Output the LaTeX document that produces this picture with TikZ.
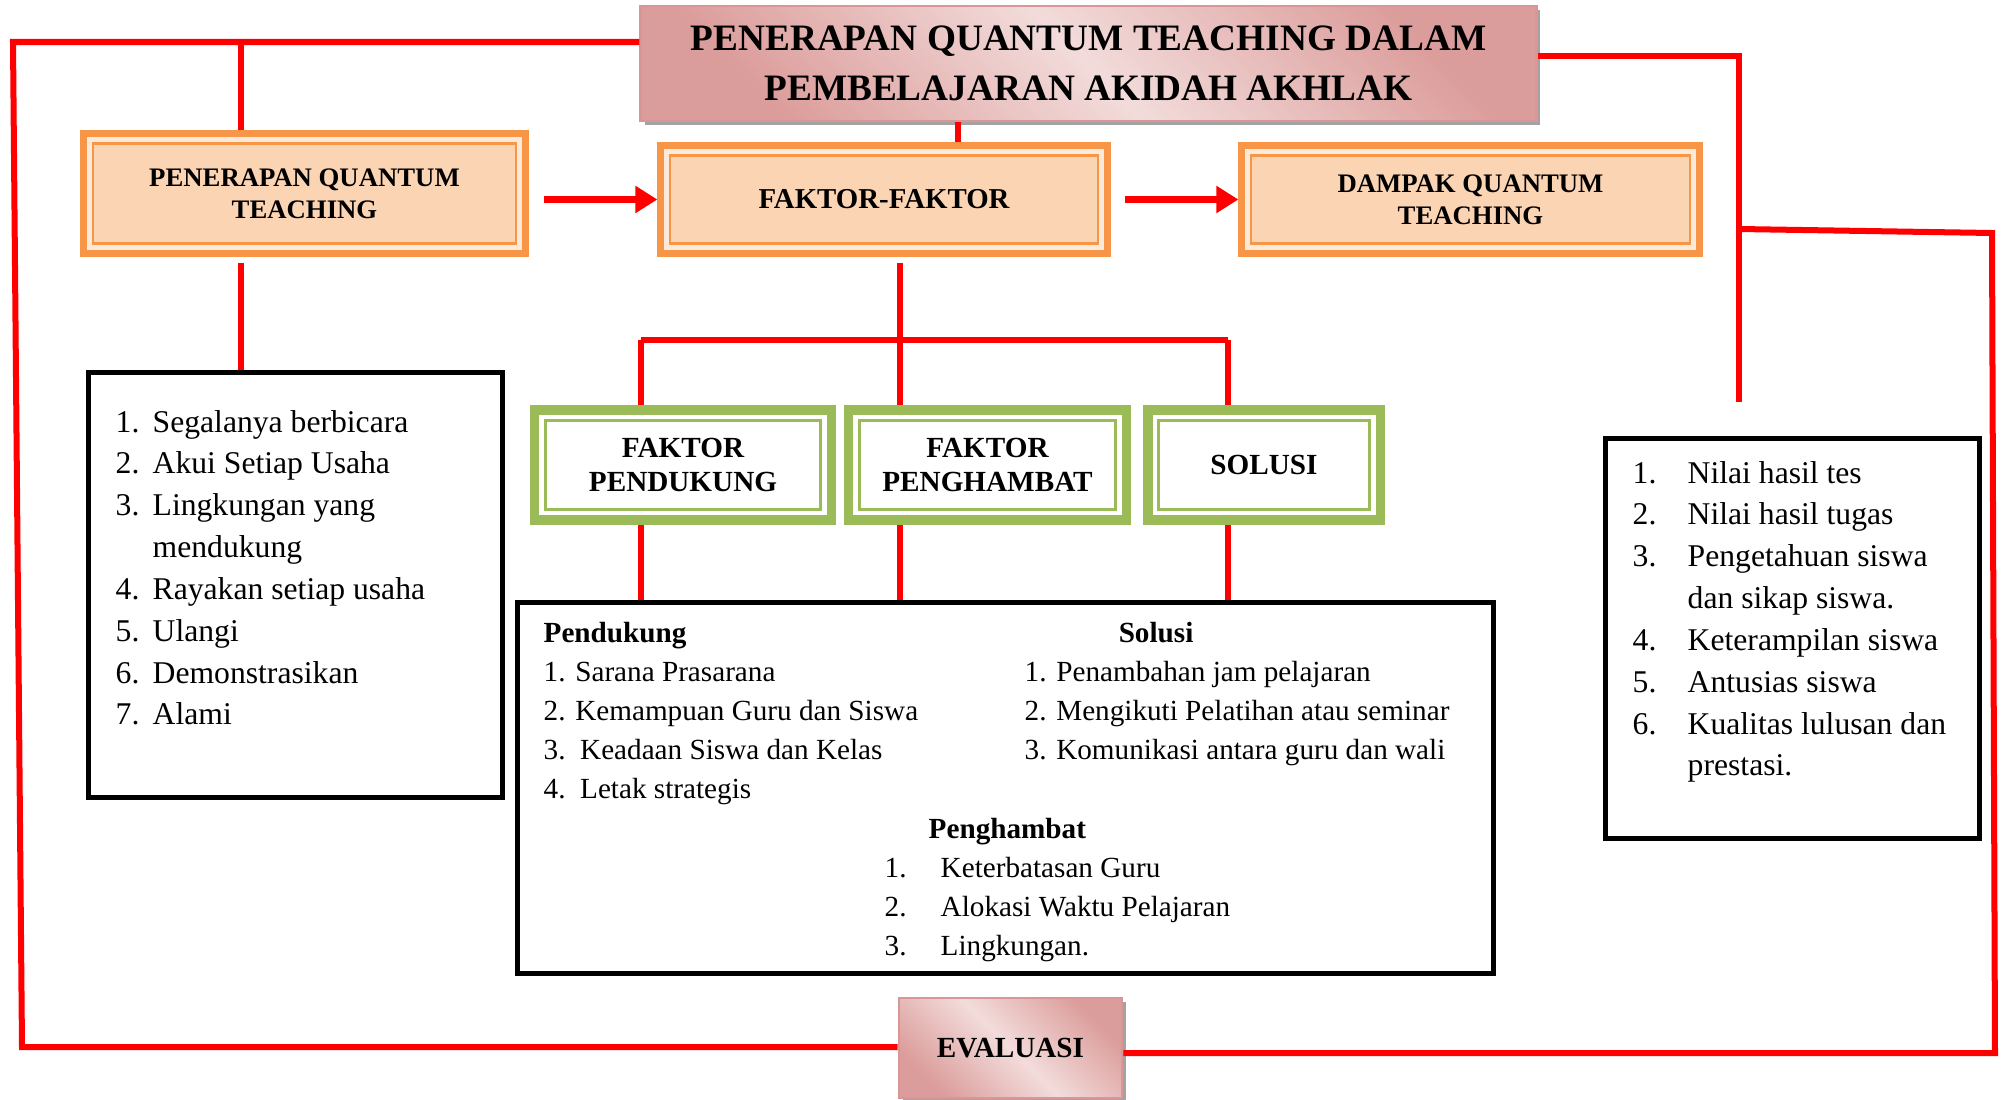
\documentclass[tikz,border=0pt]{standalone}
\usepackage{fontspec}
\setmainfont{Liberation Serif}
\usetikzlibrary{arrows.meta,shadows}

\definecolor{qorange}{HTML}{F79646}
\definecolor{qpeach}{HTML}{FBD4B4}
\definecolor{qlight}{HTML}{FDE9D9}
\definecolor{qgreen}{HTML}{9BBB59}
\definecolor{qrose}{HTML}{D99694}
\definecolor{qpale}{HTML}{F2DCDB}

\tikzset{
  redline/.style={red,line width=0.06cm},
  redarrow/.style={red,line width=0.07cm,-{Triangle[length=0.22cm,width=0.26cm]}},
  rosebox/.style={draw=qrose,line width=0.8pt,top color=qrose!90!qpale,bottom color=qrose!90!qpale,middle color=qpale,shading angle=-45,
    drop shadow={shadow xshift=0.04cm,shadow yshift=-0.04cm,fill=black!45,opacity=0.8},align=center,inner sep=0pt},
  orangebox/.style={draw=qorange,fill=qpeach,line width=2pt,align=center,inner sep=0pt,
    font=\fontsize{7.6}{9.1}\selectfont\bfseries,
    path picture={
      \draw[qlight,line width=1.2pt] ([xshift=1.6pt,yshift=-1.6pt]path picture bounding box.north west) rectangle ([xshift=-1.6pt,yshift=1.6pt]path picture bounding box.south east);
      \draw[qorange,line width=0.8pt] ([xshift=2.6pt,yshift=-2.6pt]path picture bounding box.north west) rectangle ([xshift=-2.6pt,yshift=2.6pt]path picture bounding box.south east);}},
  greenbox/.style={draw=qgreen,fill=white,line width=2.6pt,align=center,inner sep=0pt,
    font=\fontsize{8.3}{9.4}\selectfont\bfseries,
    path picture={
      \draw[qgreen,line width=0.9pt] ([xshift=3pt,yshift=-3pt]path picture bounding box.north west) rectangle ([xshift=-3pt,yshift=3pt]path picture bounding box.south east);}},
  listbox/.style={draw=black,line width=0.05cm,inner sep=0pt},
  listtext/.style={inner sep=0pt,anchor=north west,font=\fontsize{9}{11.9}\selectfont},
  midtext/.style={inner sep=0pt,anchor=north west,font=\fontsize{8.3}{11.05}\selectfont}
}

\begin{document}
\begin{tikzpicture}[x=0.01cm,y=-0.01cm]
\useasboundingbox (0,0) rectangle (2002,1100);

\node[rosebox,minimum width=8.95cm,minimum height=1.15cm,font=\fontsize{10.6}{14.1}\selectfont\bfseries] (title) at (1088.5,63.5) {PENERAPAN QUANTUM TEACHING DALAM\\PEMBELAJARAN AKIDAH AKHLAK};
\node[rosebox,minimum width=2.23cm,minimum height=1.0cm,font=\fontsize{8.3}{9.4}\selectfont\bfseries] (evaluasi) at (1010.5,1048) {EVALUASI};

\node[orangebox,minimum width=4.41cm,minimum height=1.19cm] (pqt) at (304.5,193.5) {PENERAPAN QUANTUM\\TEACHING};
\node[orangebox,minimum width=4.46cm,minimum height=1.07cm,font=\fontsize{8.2}{9.4}\selectfont\bfseries] (faktor) at (884,199.5) {FAKTOR-FAKTOR};
\node[orangebox,minimum width=4.57cm,minimum height=1.07cm] (dampak) at (1470.5,199.5) {DAMPAK QUANTUM\\TEACHING};

\node[greenbox,minimum width=2.96cm,minimum height=1.10cm] (pendukung) at (683,465) {FAKTOR\\PENDUKUNG};
\node[greenbox,minimum width=2.77cm,minimum height=1.10cm] (penghambat) at (987.5,465) {FAKTOR\\PENGHAMBAT};
\node[greenbox,minimum width=2.32cm,minimum height=1.10cm] (solusi) at (1264,465) {SOLUSI};

\node[listbox,minimum width=4.13cm,minimum height=4.24cm] (listL) at (295.5,585) {};
\node[listbox,minimum width=9.75cm,minimum height=3.70cm] (midbox) at (1005.5,788) {};
\node[listbox,minimum width=3.73cm,minimum height=3.99cm] (listR) at (1792.5,638.5) {};

\node[listtext] (listLtext) at (115,402) {\begin{tabular}{@{}p{0.37cm}@{}l@{}}
1. & Segalanya berbicara\\ 2. & Akui Setiap Usaha\\ 3. & Lingkungan yang\\ & mendukung\\
4. & Rayakan setiap usaha\\ 5. & Ulangi\\ 6. & Demonstrasikan\\ 7. & Alami\end{tabular}};
\node[listtext] (listRtext) at (1632,453) {\begin{tabular}{@{}p{0.55cm}@{}l@{}}
1. & Nilai hasil tes\\ 2. & Nilai hasil tugas\\ 3. & Pengetahuan siswa\\ & dan sikap siswa.\\
4. & Keterampilan siswa\\ 5. & Antusias siswa\\ 6. & Kualitas lulusan dan\\ & prestasi.\end{tabular}};

\node[midtext] (pendukungtext) at (543,615) {\begin{tabular}{@{}l@{}}
\textbf{Pendukung}\\ 1. Sarana Prasarana\\ 2. Kemampuan Guru dan Siswa\\ 3.\ \ Keadaan Siswa dan Kelas\\ 4.\ \ Letak strategis\end{tabular}};
\node[midtext] (solusitext) at (1024,615) {\begin{tabular}{@{}l@{}}
\hspace*{0.94cm}\textbf{Solusi}\\ 1. Penambahan jam pelajaran\\ 2. Mengikuti Pelatihan atau seminar\\ 3. Komunikasi antara guru dan wali\end{tabular}};
\node[midtext] (penghambattext) at (884,811) {\begin{tabular}{@{}p{0.56cm}@{}l@{}}
\multicolumn{2}{@{}l@{}}{\hspace*{0.44cm}\textbf{Penghambat}}\\ 1. & Keterbatasan Guru\\ 2. & Alokasi Waktu Pelajaran\\ 3. & Lingkungan.\end{tabular}};

% loop lines
\coordinate (lt) at (13,42);
\coordinate (lb) at (22,1047);
\coordinate (lbr) at (241,42);
\coordinate (rt) at (1739,56);
\coordinate (rend) at (1739,402);
\coordinate (rj) at (1739,229);
\coordinate (rr) at (1992,233);
\coordinate (rb) at (1995,1053);
\coordinate (tb) at (958,130);
\coordinate (jL) at (641,340);
\coordinate (jM) at (900,340);
\coordinate (jR) at (1228,340);

\draw[redline] (title.west |- lt) -- (lt) -- (lb) -- (evaluasi.west |- lb);
\draw[redline] (lbr) -- (lbr |- pqt.north);
\draw[redline,shorten <=0.06cm] (lbr |- pqt.south) -- (lbr |- listL.north);
\draw[redline] (title.east |- rt) -- (rt) -- (rend);
\draw[redline] (rj) -- (rr) -- (rb) -- (evaluasi.east |- rb);
\draw[redline] (title.south -| tb) -- (faktor.north -| tb);

\draw[redline,shorten <=0.06cm] (faktor.south -| jM) -- (penghambat.north -| jM);
\draw[redline] (jL) -- (jR);
\draw[redline] (jL) -- (pendukung.north -| jL);
\draw[redline] (jR) -- (solusi.north -| jR);
\foreach \j/\b in {jL/pendukung,jM/penghambat,jR/solusi}
  \draw[redline] (\b.south -| \j) -- (midbox.north -| \j);

\draw[redarrow,shorten <=0.15cm] (pqt.east |- faktor.west) -- (faktor.west);
\draw[redarrow,shorten <=0.14cm] (faktor.east) -- (dampak.west);
\end{tikzpicture}
\end{document}
